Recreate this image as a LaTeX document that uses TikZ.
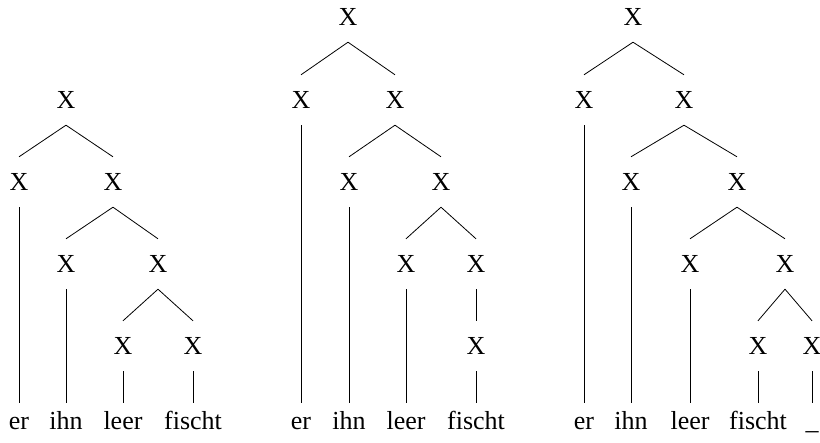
\documentclass[tikz,border=0pt]{standalone}
\usepackage{fontspec}
\setmainfont{Liberation Serif}
\begin{document}
\begin{tikzpicture}[x=1pt,y=-1pt,
  cat/.style={inner sep=0pt,minimum height=50pt,font=\fontsize{26}{30}\selectfont},
  word/.style={anchor=base,inner xsep=0pt,inner ysep=7pt,text height=20pt,text depth=0pt,font=\fontsize{26}{30}\selectfont},
  br/.style={line width=0.8pt}]
\useasboundingbox (0,0) rectangle (820,443);
% ---------- Tree 1 ----------
\node[cat] (a0) at (66,100) {X};
\node[cat] (a1) at (19,182) {X};
\node[cat] (a2) at (113,182) {X};
\node[cat] (a21) at (66,264) {X};
\node[cat] (a22) at (158,264) {X};
\node[cat] (a221) at (123,346) {X};
\node[cat] (a222) at (193,346) {X};
\node[word] (aw1) at (19,430) {er};
\node[word] (aw2) at (66,430) {ihn};
\node[word] (aw3) at (123,430) {leer};
\node[word] (aw4) at (193,430) {fischt};
\draw[br] (a0.south) -- (a1.north);
\draw[br] (a0.south) -- (a2.north);
\draw[br] (a2.south) -- (a21.north);
\draw[br] (a2.south) -- (a22.north);
\draw[br] (a22.south) -- (a221.north);
\draw[br] (a22.south) -- (a222.north);
\draw[br] (a1.south) -- (aw1.north);
\draw[br] (a21.south) -- (aw2.north);
\draw[br] (a221.south) -- (aw3.north);
\draw[br] (a222.south) -- (aw4.north);
% ---------- Tree 2 ----------
\node[cat] (b0) at (348,17) {X};
\node[cat] (b1) at (301,100) {X};
\node[cat] (b2) at (395,100) {X};
\node[cat] (b21) at (349,182) {X};
\node[cat] (b22) at (441,182) {X};
\node[cat] (b221) at (406,264) {X};
\node[cat] (b222) at (476,264) {X};
\node[cat] (b2221) at (476,346) {X};
\node[word] (bw1) at (301,430) {er};
\node[word] (bw2) at (349,430) {ihn};
\node[word] (bw3) at (406,430) {leer};
\node[word] (bw4) at (476,430) {fischt};
\draw[br] (b0.south) -- (b1.north);
\draw[br] (b0.south) -- (b2.north);
\draw[br] (b2.south) -- (b21.north);
\draw[br] (b2.south) -- (b22.north);
\draw[br] (b22.south) -- (b221.north);
\draw[br] (b22.south) -- (b222.north);
\draw[br] (b222.south) -- (b2221.north);
\draw[br] (b1.south) -- (bw1.north);
\draw[br] (b21.south) -- (bw2.north);
\draw[br] (b221.south) -- (bw3.north);
\draw[br] (b2221.south) -- (bw4.north);
% ---------- Tree 3 ----------
\node[cat] (c0) at (633,17) {X};
\node[cat] (c1) at (584,100) {X};
\node[cat] (c2) at (684,100) {X};
\node[cat] (c21) at (631,182) {X};
\node[cat] (c22) at (737,182) {X};
\node[cat] (c221) at (690,264) {X};
\node[cat] (c222) at (785,264) {X};
\node[cat] (c2221) at (758,346) {X};
\node[cat] (c2222) at (812,346) {X};
\node[word] (cw1) at (584,430) {er};
\node[word] (cw2) at (631,430) {ihn};
\node[word] (cw3) at (690,430) {leer};
\node[word] (cw4) at (758,430) {fischt};
\node[word] (cw5) at (812,430) {\_};
\draw[br] (c0.south) -- (c1.north);
\draw[br] (c0.south) -- (c2.north);
\draw[br] (c2.south) -- (c21.north);
\draw[br] (c2.south) -- (c22.north);
\draw[br] (c22.south) -- (c221.north);
\draw[br] (c22.south) -- (c222.north);
\draw[br] (c222.south) -- (c2221.north);
\draw[br] (c222.south) -- (c2222.north);
\draw[br] (c1.south) -- (cw1.north);
\draw[br] (c21.south) -- (cw2.north);
\draw[br] (c221.south) -- (cw3.north);
\draw[br] (c2221.south) -- (cw4.north);
\draw[br] (c2222.south) -- (cw5.north);
\end{tikzpicture}
\end{document}
